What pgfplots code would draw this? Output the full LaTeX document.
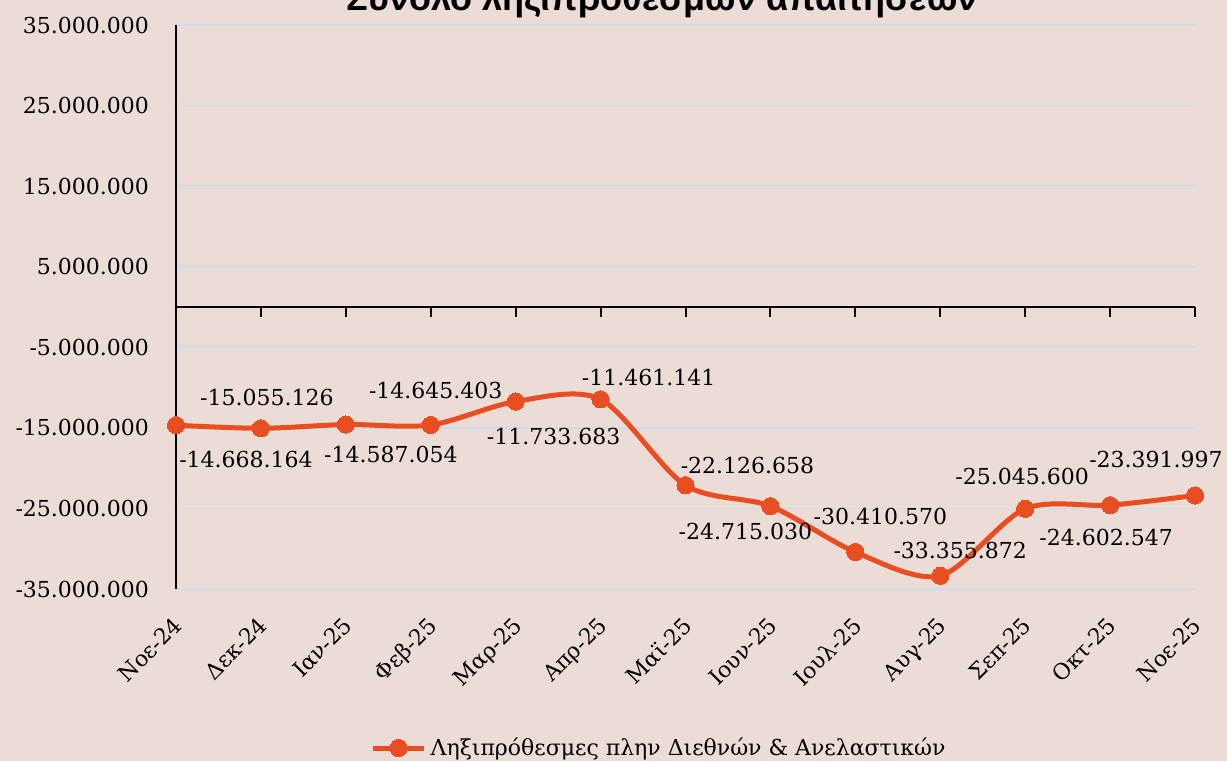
\documentclass[border=0pt]{standalone}
\usepackage{fontspec}
\usepackage{pgfplots}
\pgfplotsset{compat=1.18}
\setmainfont{DejaVu Serif}
\newfontfamily\titlefont{Liberation Sans}
\definecolor{bg}{RGB}{235,221,214}
\definecolor{ser}{RGB}{233,78,35}
\definecolor{gridc}{RGB}{205,220,232}
\begin{document}
\begin{tikzpicture}
\fill[bg] (0,0) rectangle (613.5pt,380.5pt);
\begin{axis}[
  scale only axis, width=509.5pt, height=282pt,
  at={(88pt,86pt)}, anchor=south west,
  xmin=0, xmax=12, ymin=-35000000, ymax=35000000,
  scaled y ticks=false,
  clip=false,
  axis y line*=left, axis x line*=bottom,
  x axis line style={draw=none},
  y axis line style={black, line width=1pt, -},
  xtick={0,...,12},
  xticklabels={Νοε-24,Δεκ-24,Ιαν-25,Φεβ-25,Μαρ-25,Απρ-25,Μαϊ-25,Ιουν-25,Ιουλ-25,Αυγ-25,Σεπ-25,Οκτ-25,Νοε-25},
  ytick={-35000000,-25000000,-15000000,-5000000,5000000,15000000,25000000,35000000},
  yticklabels={-35.000.000,-25.000.000,-15.000.000,-5.000.000,5.000.000,15.000.000,25.000.000,35.000.000},
  major tick length=0pt,
  xtick style={draw=none}, ytick style={draw=none},
  ymajorgrids, grid style={gridc, line width=0.8pt},
  yticklabel style={font=\fontsize{11}{13}\selectfont, anchor=east, xshift=-10pt},
  xticklabel style={font=\fontsize{11}{13}\selectfont, yshift=-13pt, xshift=-2pt, rotate=45, anchor=north east, inner sep=0pt},
  legend style={at={(0.475,-0.282)}, anchor=center, draw=none, fill=none, font=\fontsize{11}{13}\selectfont, inner sep=0pt},
  legend image code/.code={\draw[mark repeat=2,mark phase=2] plot coordinates {(0cm,0cm)(0.45cm,0cm)(0.9cm,0cm)};},
]
\addplot[ser, line width=2.5pt, smooth, mark=*, mark size=4.3pt, mark options={ser, fill=ser, line width=0pt},
  nodes near coords, point meta=explicit symbolic,
  visualization depends on={value \thisrow{dx}\as\dx},
  visualization depends on={value \thisrow{dy}\as\dy},
  every node near coord/.append style={xshift=\dx pt, yshift=\dy pt, anchor=center, text=black, font=\fontsize{11}{13}\selectfont, inner sep=0pt}]
 table[x=x, y=y, meta=lab] {
x y dx dy lab
0 -14668164 35 -17 -14.668.164
1 -15055126 3 15.5 -15.055.126
2 -14587054 22.5 -15 -14.587.054
3 -14645403 2.5 17.5 -14.645.403
4 -11733683 19 -17.5 -11.733.683
5 -11461141 24 11 -11.461.141
6 -22126658 31 10 -22.126.658
7 -24715030 -12.5 -12.5 -24.715.030
8 -30410570 12.5 18 -30.410.570
9 -33355872 10 12.5 -33.355.872
10 -25045600 -1.5 16 -25.045.600
11 -24602547 -2 -16 -24.602.547
12 -23391997 -19.5 18 -23.391.997
};
\addlegendentry{Ληξιπρόθεσμες πλην Διεθνών \& Ανελαστικών}
\draw[black, line width=1pt] (axis cs:0,0) -- (axis cs:12,0);
\pgfplotsinvokeforeach{0,...,12}{\draw[black, line width=1pt] (axis cs:#1,0) -- ++(0pt,-5pt);}
\end{axis}
\node[font=\titlefont\bfseries\fontsize{18}{21}\selectfont, anchor=base] at (331pt,375.25pt) {Σύνολο ληξιπρόθεσμων απαιτήσεων};
\pgfresetboundingbox
\useasboundingbox (0,0) rectangle (613.5pt,380.5pt);
\end{tikzpicture}
\end{document}
